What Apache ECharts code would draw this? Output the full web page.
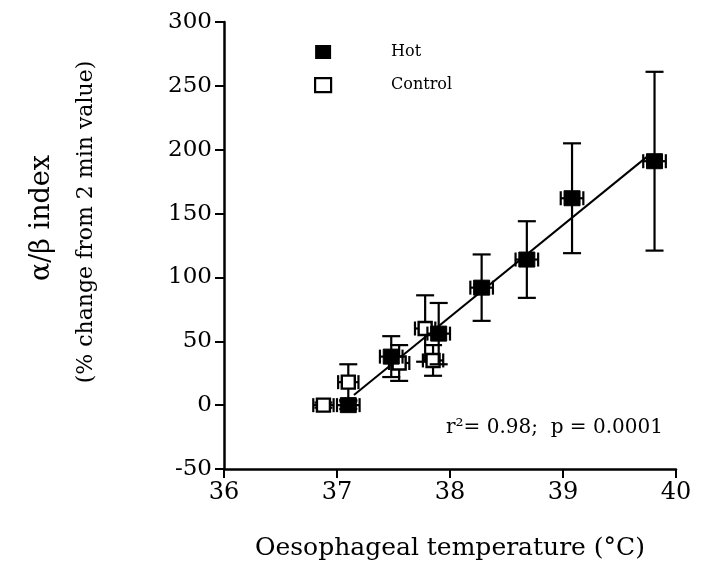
<!DOCTYPE html>
<html>
<head>
<meta charset="utf-8">
<script src="https://cdn.jsdelivr.net/npm/echarts@6/dist/echarts.min.js"></script>
<style>html,body{margin:0;padding:0;background:#fff}#c{width:705px;height:574px}</style>
</head>
<body>
<div id="c"></div>
<script>
// Data
var hotTemp    = [37.10, 37.48, 37.90, 38.28, 38.68, 39.08, 39.81];
var hotAlpha   = [0, 38, 56, 92, 114, 162, 191];
var hotErr     = [3, 16, 24, 26, 30, 43, 70];
var hotTempErr = [0.1, 0.1, 0.1, 0.1, 0.1, 0.1, 0.1];

var ctrlTemp    = [36.88, 37.10, 37.55, 37.78, 37.85];
var ctrlAlpha   = [0, 18, 33, 60, 35];
var ctrlErr     = [2, 14, 14, 26, 12];
var ctrlTempErr = [0.09, 0.09, 0.09, 0.09, 0.09];

var regTemp  = [37.15, 39.75];
var regAlpha = [8, 195];

var xTicks = [36, 37, 38, 39, 40];
var yTicks = [-50, 0, 50, 100, 150, 200, 250, 300];

var FONT = 'DejaVu Serif';

function build(t, a, e, et) {
  return t.map(function (v, i) { return [v, a[i], e[i], et[i]]; });
}

function makeRender(filled, w, hgt) {
  return function (params, api) {
    var x = api.value(0), y = api.value(1), ey = api.value(2), ex = api.value(3);
    var c = api.coord([x, y]);
    var t = api.coord([x, y + ey]);
    var b = api.coord([x, y - ey]);
    var l = api.coord([x - ex, y]);
    var r = api.coord([x + ex, y]);
    var ls = { stroke: '#000', lineWidth: 2.2 };
    var cw = 9, ch = 7;
    return {
      type: 'group',
      children: [
        { type: 'line', shape: { x1: c[0], y1: t[1], x2: c[0], y2: b[1] }, style: ls },
        { type: 'line', shape: { x1: c[0] - cw, y1: t[1], x2: c[0] + cw, y2: t[1] }, style: ls },
        { type: 'line', shape: { x1: c[0] - cw, y1: b[1], x2: c[0] + cw, y2: b[1] }, style: ls },
        { type: 'line', shape: { x1: l[0], y1: c[1], x2: r[0], y2: c[1] }, style: ls },
        { type: 'line', shape: { x1: l[0], y1: c[1] - ch, x2: l[0], y2: c[1] + ch }, style: ls },
        { type: 'line', shape: { x1: r[0], y1: c[1] - ch, x2: r[0], y2: c[1] + ch }, style: ls },
        { type: 'rect', shape: { x: c[0] - w / 2, y: c[1] - hgt / 2, width: w, height: hgt },
          style: filled ? { fill: '#000', stroke: '#000', lineWidth: 1 } : { fill: '#fff', stroke: '#000', lineWidth: 2.4 } }
      ]
    };
  };
}

var chart = echarts.init(document.getElementById('c'), null, { renderer: 'canvas' });
chart.setOption({
  animation: false,
  backgroundColor: '#fff',
  grid: { left: 224, right: 29, top: 22, bottom: 105 },
  legend: {
    orient: 'vertical',
    left: 309,
    top: 39,
    itemWidth: 16,
    itemHeight: 14,
    itemGap: 17,
    textStyle: { fontFamily: FONT, fontSize: 16, color: '#000', padding: [0, 0, 0, 55] },
    data: [
      { name: 'Hot', icon: 'rect', itemStyle: { color: '#000', borderColor: '#000', borderWidth: 0 } },
      { name: 'Control', icon: 'rect', itemStyle: { color: '#fff', borderColor: '#000', borderWidth: 2.2 } }
    ]
  },
  xAxis: {
    type: 'value', min: 36, max: 40, interval: 1,
    name: 'Oesophageal temperature (°C)',
    nameLocation: 'middle', nameGap: 67,
    nameTextStyle: { fontFamily: FONT, fontSize: 25, color: '#000' },
    axisLine: { onZero: false, lineStyle: { color: '#000', width: 2.5 } },
    axisTick: { length: 9, lineStyle: { color: '#000', width: 2 } },
    axisLabel: { fontFamily: FONT, fontSize: 24, color: '#000', margin: 12,
      formatter: function (v) { return xTicks.indexOf(v) >= 0 ? String(v) : ''; } },
    splitLine: { show: false }
  },
  yAxis: {
    type: 'value', min: -50, max: 300, interval: 50,
    axisLine: { onZero: false, lineStyle: { color: '#000', width: 2.5 } },
    axisTick: { length: 9, lineStyle: { color: '#000', width: 2 } },
    axisLabel: { fontFamily: FONT, fontSize: 23, color: '#000', margin: 12,
      formatter: function (v) { return yTicks.indexOf(v) >= 0 ? String(v) : ''; } },
    splitLine: { show: false }
  },
  graphic: [
    { type: 'text', x: 42, y: 218, rotation: Math.PI / 2,
      style: { text: 'α/β index', fontFamily: FONT, fontSize: 27, fill: '#000', align: 'center', verticalAlign: 'middle' } },
    { type: 'text', x: 86, y: 222, rotation: Math.PI / 2,
      style: { text: '(% change from 2 min value)', fontFamily: FONT, fontSize: 22, fill: '#000', align: 'center', verticalAlign: 'middle' } },
    { type: 'text', x: 446, y: 428,
      style: { text: 'r²= 0.98;  p = 0.0001', fontFamily: FONT, fontSize: 20, fill: '#000', align: 'left', verticalAlign: 'middle' } }
  ],
  series: [
    { name: 'Regression', type: 'line', data: regTemp.map(function (v, i) { return [v, regAlpha[i]]; }),
      symbol: 'none', lineStyle: { color: '#000', width: 2 }, z: 1 },
    { name: 'Control', type: 'custom', renderItem: makeRender(false, 13, 13),
      data: build(ctrlTemp, ctrlAlpha, ctrlErr, ctrlTempErr), z: 2,
      encode: { x: 0, y: 1 } },
    { name: 'Hot', type: 'custom', renderItem: makeRender(true, 16, 15),
      data: build(hotTemp, hotAlpha, hotErr, hotTempErr), z: 3,
      encode: { x: 0, y: 1 } }
  ]
});
</script>
</body>
</html>
